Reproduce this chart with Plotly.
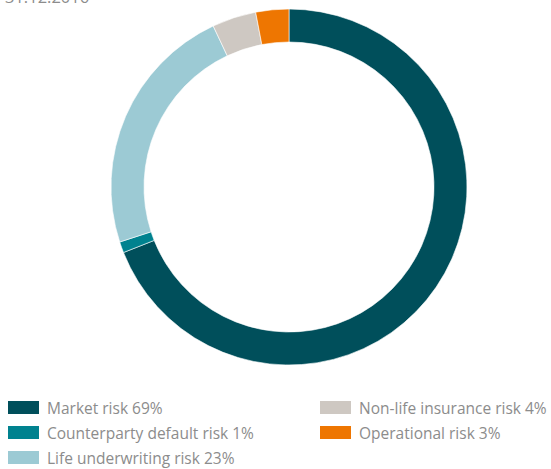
import plotly.graph_objects as go

W, H = 551, 469

categories = ["Market risk", "Counterparty default risk", "Life underwriting risk",
              "Non-life insurance risk", "Operational risk"]
values = [69, 1, 23, 4, 3]
colors = ["#004f5b", "#00828f", "#9ccad4", "#cec8c2", "#ee7601"]
title_text = "31.12.2016"

# legend layout order (row-wise, two columns)
legend_order = [0, 3, 1, 4, 2]

fig = go.Figure()

cx, cy, r = 289, 187, 178
fig.add_trace(go.Pie(
    labels=categories,
    values=values,
    marker=dict(colors=colors, line=dict(color="white", width=0.6)),
    hole=145 / 178,
    sort=False,
    direction="clockwise",
    rotation=0,
    textinfo="none",
    hoverinfo="label+percent",
    showlegend=False,
    domain=dict(x=[(cx - r) / W, (cx + r) / W], y=[1 - (cy + r) / H, 1 - (cy - r) / H]),
))

shapes = []
annotations = []
font = dict(family="Open Sans, Noto Sans, sans-serif", size=15.5, color="#8c8c8c")
col_x = [8, 320]
row_y = [401, 426, 451]
for k, idx in enumerate(legend_order):
    col = k % 2
    row = k // 2
    x0 = col_x[col]
    y0 = row_y[row]
    shapes.append(dict(type="rect", xref="paper", yref="paper",
                       x0=x0 / W, x1=(x0 + 31) / W,
                       y0=1 - (y0 + 13) / H, y1=1 - y0 / H,
                       fillcolor=colors[idx], line=dict(width=0)))
    annotations.append(dict(xref="paper", yref="paper", x=(x0 + 37) / W,
                            y=1 - (y0 + 6.5) / H, xanchor="left", yanchor="middle",
                            text=f"{categories[idx]} {values[idx]}%", showarrow=False,
                            font=font))

# title, partly cropped at the top edge as in the reference
annotations.append(dict(xref="paper", yref="paper", x=0, y=1 - 10 / H,
                        xanchor="left", yanchor="bottom", text=title_text,
                        showarrow=False, font=dict(family=font["family"], size=16.5, color="#8c8c8c"),
                        xshift=3))

fig.update_layout(
    width=W, height=H,
    margin=dict(l=0, r=0, t=0, b=0),
    paper_bgcolor="white",
    plot_bgcolor="white",
    shapes=shapes,
    annotations=annotations,
)

fig.write_html("out.html")
